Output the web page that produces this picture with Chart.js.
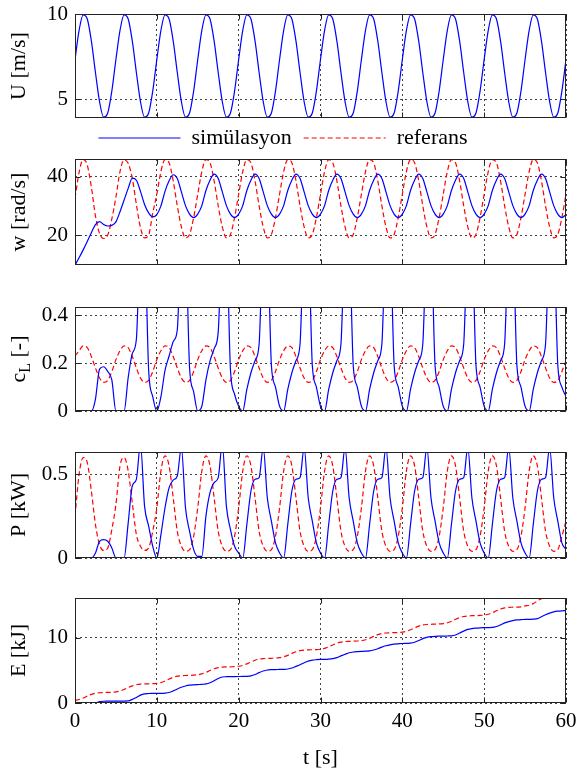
<!DOCTYPE html>
<html>
<head>
<meta charset="utf-8">
<script src="https://cdn.jsdelivr.net/npm/chart.js@4.4.1/dist/chart.umd.min.js"></script>
<style>
  html, body { margin: 0; padding: 0; background: #fff; }
  #wrap { position: relative; width: 581px; height: 771px; }
  #wrap canvas { position: absolute; left: 0; top: 0; }
</style>
</head>
<body>
<div id="wrap">
  <canvas id="cU" width="581" height="771"></canvas>
  <canvas id="cW" width="581" height="771"></canvas>
  <canvas id="cCL" width="581" height="771"></canvas>
  <canvas id="cP" width="581" height="771"></canvas>
  <canvas id="cE" width="581" height="771"></canvas>
</div>
<script>
// time samples [s]
const t = [
  0, 0.5, 1, 1.5, 2, 2.5, 3, 3.5, 4, 4.5,
  5, 5.5, 6, 6.5, 7, 7.5, 8, 8.5, 9, 9.5,
  10, 10.5, 11, 11.5, 12, 12.5, 13, 13.5, 14, 14.5,
  15, 15.5, 16, 16.5, 17, 17.5, 18, 18.5, 19, 19.5,
  20, 20.5, 21, 21.5, 22, 22.5, 23, 23.5, 24, 24.5,
  25, 25.5, 26, 26.5, 27, 27.5, 28, 28.5, 29, 29.5,
  30, 30.5, 31, 31.5, 32, 32.5, 33, 33.5, 34, 34.5,
  35, 35.5, 36, 36.5, 37, 37.5, 38, 38.5, 39, 39.5,
  40, 40.5, 41, 41.5, 42, 42.5, 43, 43.5, 44, 44.5,
  45, 45.5, 46, 46.5, 47, 47.5, 48, 48.5, 49, 49.5,
  50, 50.5, 51, 51.5, 52, 52.5, 53, 53.5, 54, 54.5,
  55, 55.5, 56, 56.5, 57, 57.5, 58, 58.5, 59, 59.5,
  60
];
const tTicks = [0, 10, 20, 30, 40, 50, 60];

// wind speed U [m/s]
const uSim = [
  7.33, 9.04, 9.95, 9.71, 8.42, 6.57, 4.86, 3.95, 4.19, 5.48,
  7.33, 9.04, 9.95, 9.71, 8.42, 6.57, 4.86, 3.95, 4.19, 5.48,
  7.33, 9.04, 9.95, 9.71, 8.42, 6.57, 4.86, 3.95, 4.19, 5.48,
  7.33, 9.04, 9.95, 9.71, 8.42, 6.57, 4.86, 3.95, 4.19, 5.48,
  7.33, 9.04, 9.95, 9.71, 8.42, 6.57, 4.86, 3.95, 4.19, 5.48,
  7.33, 9.04, 9.95, 9.71, 8.42, 6.57, 4.86, 3.95, 4.19, 5.48,
  7.33, 9.04, 9.95, 9.71, 8.42, 6.57, 4.86, 3.95, 4.19, 5.48,
  7.33, 9.04, 9.95, 9.71, 8.42, 6.57, 4.86, 3.95, 4.19, 5.48,
  7.33, 9.04, 9.95, 9.71, 8.42, 6.57, 4.86, 3.95, 4.19, 5.48,
  7.33, 9.04, 9.95, 9.71, 8.42, 6.57, 4.86, 3.95, 4.19, 5.48,
  7.33, 9.04, 9.95, 9.71, 8.42, 6.57, 4.86, 3.95, 4.19, 5.48,
  7.33, 9.04, 9.95, 9.71, 8.42, 6.57, 4.86, 3.95, 4.19, 5.48,
  7.33
];

// rotor speed w [rad/s]
const wSim = [
  9.7, 12.2, 14.9, 17.8, 20.8, 23.6, 24.6, 23.6, 23.1, 23.3,
  24.5, 28.0, 32.0, 36.0, 39.5, 38.8, 35.0, 30.5, 27.6, 26.2,
  27.0, 30.0, 35.0, 38.6, 40.7, 39.4, 34.8, 30.1, 27.2, 26.0,
  27.2, 30.1, 35.3, 38.8, 40.9, 39.4, 34.8, 30.1, 27.2, 26.0,
  27.2, 30.1, 35.3, 38.8, 40.9, 39.4, 34.8, 30.1, 27.2, 26.0,
  27.2, 30.1, 35.3, 38.8, 40.9, 39.4, 34.8, 30.1, 27.2, 26.0,
  27.2, 30.1, 35.3, 38.8, 40.9, 39.4, 34.8, 30.1, 27.2, 26.0,
  27.2, 30.1, 35.3, 38.8, 40.9, 39.4, 34.8, 30.1, 27.2, 26.0,
  27.2, 30.1, 35.3, 38.8, 40.9, 39.4, 34.8, 30.1, 27.2, 26.0,
  27.2, 30.1, 35.3, 38.8, 40.9, 39.4, 34.8, 30.1, 27.2, 26.0,
  27.2, 30.1, 35.3, 38.8, 40.9, 39.4, 34.8, 30.1, 27.2, 26.0,
  27.2, 30.1, 35.3, 38.8, 40.9, 39.4, 34.8, 30.1, 27.2, 26.0,
  27.0
];
const wRef = [
  32.6, 41.5, 46.0, 44.0, 36.5, 26.5, 20.5, 18.8, 20.0, 25.5,
  33.0, 41.8, 45.8, 44.6, 39.5, 30.5, 22.5, 19.0, 20.0, 27.5,
  34.0, 41.8, 45.9, 44.8, 38.6, 30.0, 22.8, 19.0, 20.2, 26.0,
  34.0, 41.8, 45.9, 44.8, 38.6, 30.0, 22.8, 19.0, 20.2, 26.0,
  34.0, 41.8, 45.9, 44.8, 38.6, 30.0, 22.8, 19.0, 20.2, 26.0,
  34.0, 41.8, 45.9, 44.8, 38.6, 30.0, 22.8, 19.0, 20.2, 26.0,
  34.0, 41.8, 45.9, 44.8, 38.6, 30.0, 22.8, 19.0, 20.2, 26.0,
  34.0, 41.8, 45.9, 44.8, 38.6, 30.0, 22.8, 19.0, 20.2, 26.0,
  34.0, 41.8, 45.9, 44.8, 38.6, 30.0, 22.8, 19.0, 20.2, 26.0,
  34.0, 41.8, 45.9, 44.8, 38.6, 30.0, 22.8, 19.0, 20.2, 26.0,
  34.0, 41.8, 45.9, 44.8, 38.6, 30.0, 22.8, 19.0, 20.2, 26.0,
  34.0, 41.8, 45.9, 44.8, 38.6, 30.0, 22.8, 19.0, 20.2, 26.0,
  34.0
];

// lift coefficient cL [-]
const cLSim = [
  0, 0, 0, 0, 0, 0.05, 0.175, 0.185, 0.165, 0.13,
  0, 0, 0, 0.14, 0.24, 0.30, 0.70, 0.70, 0.17, 0.06,
  0, 0.06, 0.17, 0.23, 0.29, 0.34, 0.70, 0.70, 0.18, 0.08,
  0, 0.02, 0.13, 0.21, 0.26, 0.33, 0.70, 0.70, 0.17, 0.07,
  0.02, 0, 0.09, 0.16, 0.21, 0.28, 0.70, 0.70, 0.19, 0.10,
  0.02, 0, 0.09, 0.16, 0.21, 0.28, 0.70, 0.70, 0.19, 0.10,
  0.02, 0, 0.09, 0.16, 0.21, 0.28, 0.70, 0.70, 0.19, 0.10,
  0.02, 0, 0.09, 0.16, 0.21, 0.28, 0.70, 0.70, 0.19, 0.10,
  0.02, 0, 0.09, 0.16, 0.21, 0.28, 0.70, 0.70, 0.19, 0.10,
  0.02, 0, 0.09, 0.16, 0.21, 0.28, 0.70, 0.70, 0.19, 0.10,
  0.02, 0, 0.09, 0.16, 0.21, 0.28, 0.70, 0.70, 0.19, 0.10,
  0.02, 0, 0.09, 0.16, 0.21, 0.28, 0.70, 0.70, 0.19, 0.10,
  0.06
];
const cLRef = [
  0.230, 0.252, 0.272, 0.265, 0.228, 0.180, 0.138, 0.120, 0.128, 0.165,
  0.215, 0.252, 0.272, 0.265, 0.228, 0.180, 0.138, 0.120, 0.128, 0.165,
  0.215, 0.252, 0.272, 0.265, 0.228, 0.180, 0.138, 0.120, 0.128, 0.165,
  0.215, 0.252, 0.272, 0.265, 0.228, 0.180, 0.138, 0.120, 0.128, 0.165,
  0.215, 0.252, 0.272, 0.265, 0.228, 0.180, 0.138, 0.120, 0.128, 0.165,
  0.215, 0.252, 0.272, 0.265, 0.228, 0.180, 0.138, 0.120, 0.128, 0.165,
  0.215, 0.252, 0.272, 0.265, 0.228, 0.180, 0.138, 0.120, 0.128, 0.165,
  0.215, 0.252, 0.272, 0.265, 0.228, 0.180, 0.138, 0.120, 0.128, 0.165,
  0.215, 0.252, 0.272, 0.265, 0.228, 0.180, 0.138, 0.120, 0.128, 0.165,
  0.215, 0.252, 0.272, 0.265, 0.228, 0.180, 0.138, 0.120, 0.128, 0.165,
  0.215, 0.252, 0.272, 0.265, 0.228, 0.180, 0.138, 0.120, 0.128, 0.165,
  0.215, 0.252, 0.272, 0.265, 0.228, 0.180, 0.138, 0.120, 0.128, 0.165,
  0.21
];

// power P [kW]
const pSim = [
  0, 0, 0, 0, 0, 0.03, 0.10, 0.11, 0.10, 0.06,
  0, 0, 0, 0.21, 0.43, 0.47, 0.68, 0.31, 0.19, 0.07,
  0, 0.14, 0.30, 0.42, 0.465, 0.49, 0.66, 0.30, 0.16, 0.05,
  0.01, 0.01, 0.25, 0.39, 0.45, 0.48, 0.68, 0.31, 0.17, 0.07,
  0.03, 0, 0.20, 0.40, 0.47, 0.48, 0.66, 0.36, 0.22, 0.09,
  0.03, 0, 0.20, 0.40, 0.47, 0.48, 0.66, 0.36, 0.22, 0.09,
  0.03, 0, 0.20, 0.40, 0.47, 0.48, 0.66, 0.36, 0.22, 0.09,
  0.03, 0, 0.20, 0.40, 0.47, 0.48, 0.66, 0.36, 0.22, 0.09,
  0.03, 0, 0.20, 0.40, 0.47, 0.48, 0.66, 0.36, 0.22, 0.09,
  0.03, 0, 0.20, 0.40, 0.47, 0.48, 0.66, 0.36, 0.22, 0.09,
  0.03, 0, 0.20, 0.40, 0.47, 0.48, 0.66, 0.36, 0.22, 0.09,
  0.03, 0, 0.20, 0.40, 0.47, 0.48, 0.66, 0.36, 0.22, 0.09,
  0.05
];
const pRef = [
  0.25, 0.50, 0.60, 0.57, 0.40, 0.20, 0.08, 0.045, 0.06, 0.17,
  0.32, 0.55, 0.60, 0.52, 0.33, 0.14, 0.07, 0.045, 0.06, 0.16,
  0.30, 0.52, 0.61, 0.55, 0.36, 0.16, 0.07, 0.04, 0.05, 0.13,
  0.30, 0.52, 0.61, 0.55, 0.36, 0.16, 0.07, 0.04, 0.05, 0.13,
  0.30, 0.52, 0.61, 0.55, 0.36, 0.16, 0.07, 0.04, 0.05, 0.13,
  0.30, 0.52, 0.61, 0.55, 0.36, 0.16, 0.07, 0.04, 0.05, 0.13,
  0.30, 0.52, 0.61, 0.55, 0.36, 0.16, 0.07, 0.04, 0.05, 0.13,
  0.30, 0.52, 0.61, 0.55, 0.36, 0.16, 0.07, 0.04, 0.05, 0.13,
  0.30, 0.52, 0.61, 0.55, 0.36, 0.16, 0.07, 0.04, 0.05, 0.13,
  0.30, 0.52, 0.61, 0.55, 0.36, 0.16, 0.07, 0.04, 0.05, 0.13,
  0.30, 0.52, 0.61, 0.55, 0.36, 0.16, 0.07, 0.04, 0.05, 0.13,
  0.30, 0.52, 0.61, 0.55, 0.36, 0.16, 0.07, 0.04, 0.05, 0.13,
  0.22
];

// energy E [kJ]
const eSim = [
  0, 0, 0, 0, 0, 0.02, 0.20, 0.27, 0.29, 0.30,
  0.30, 0.30, 0.30, 0.32, 0.55, 0.85, 1.20, 1.40, 1.45, 1.46,
  1.47, 1.47, 1.50, 1.60, 1.85, 2.15, 2.40, 2.60, 2.72, 2.78,
  2.82, 2.86, 2.92, 3.10, 3.40, 3.75, 3.98, 4.02, 4.03, 4.04,
  4.05, 4.06, 4.08, 4.15, 4.35, 4.65, 4.90, 5.05, 5.10, 5.12,
  5.13, 5.15, 5.20, 5.35, 5.60, 5.85, 6.15, 6.40, 6.55, 6.62,
  6.66, 6.68, 6.72, 6.80, 6.95, 7.20, 7.45, 7.68, 7.80, 7.86,
  7.90, 7.92, 7.96, 8.10, 8.30, 8.55, 8.75, 8.90, 9.00, 9.05,
  9.10, 9.12, 9.15, 9.30, 9.55, 9.85, 10.05, 10.15, 10.20, 10.22,
  10.23, 10.25, 10.27, 10.40, 10.70, 11.00, 11.25, 11.38, 11.45, 11.50,
  11.52, 11.54, 11.56, 11.70, 11.95, 12.25, 12.45, 12.60, 12.70, 12.76,
  12.78, 12.80, 12.82, 12.90, 13.20, 13.50, 13.75, 13.95, 14.05, 14.10,
  14.12
];
const eRef = [
  0.40, 0.53, 0.76, 1.05, 1.32, 1.49, 1.57, 1.60, 1.62, 1.65,
  1.71, 1.84, 2.07, 2.36, 2.62, 2.79, 2.88, 2.91, 2.93, 2.95,
  3.01, 3.14, 3.37, 3.66, 3.93, 4.10, 4.18, 4.21, 4.23, 4.26,
  4.32, 4.45, 4.68, 4.97, 5.23, 5.40, 5.49, 5.52, 5.54, 5.56,
  5.62, 5.75, 5.98, 6.27, 6.54, 6.71, 6.79, 6.82, 6.84, 6.87,
  6.93, 7.06, 7.29, 7.58, 7.84, 8.01, 8.10, 8.13, 8.15, 8.17,
  8.23, 8.36, 8.59, 8.88, 9.15, 9.32, 9.40, 9.43, 9.45, 9.48,
  9.54, 9.67, 9.90, 10.19, 10.45, 10.62, 10.71, 10.74, 10.76, 10.78,
  10.84, 10.97, 11.20, 11.49, 11.76, 11.93, 12.01, 12.04, 12.06, 12.09,
  12.15, 12.28, 12.51, 12.80, 13.06, 13.23, 13.32, 13.35, 13.37, 13.39,
  13.45, 13.58, 13.81, 14.10, 14.37, 14.54, 14.62, 14.65, 14.67, 14.70,
  14.85, 14.95, 15.20, 15.60, 15.95, 16.02, 16.04, 16.05, 16.05, 16.06,
  16.06
];

const FONT = "'Liberation Serif', 'Times New Roman', serif";
const BLUE = "#0000ff";
const RED = "#ff0000";
const GRID = "#444";

function series(label, ys, color, dashed) {
  return {
    label: label,
    data: t.map((x, i) => ({ x: x, y: ys[i] })),
    borderColor: color,
    backgroundColor: color,
    borderWidth: 1.2,
    borderDash: dashed ? [5, 3] : [],
    pointRadius: 0,
    cubicInterpolationMode: "monotone",
    fill: false
  };
}

function xScale(show) {
  return {
    type: "linear", min: 0, max: 60,
    afterBuildTicks: s => { s.ticks = tTicks.map(v => ({ value: v })); },
    afterFit: s => { s.height = show ? 68 : 0; s.paddingLeft = 0; s.paddingRight = 0; },
    ticks: { display: show, color: "#000", padding: 6, font: { family: FONT, size: 21 } },
    grid: { color: GRID, lineWidth: 1, drawTicks: false },
    border: { display: false, dash: [2, 3] },
    title: { display: show, text: "t [s]", color: "#000", padding: 0, font: { family: FONT, size: 22 } }
  };
}

function yScale(min, max, ticks, title) {
  return {
    type: "linear", min: min, max: max,
    afterBuildTicks: s => { s.ticks = ticks.map(v => ({ value: v })); },
    afterFit: s => { s.width = 75; s.paddingTop = 0; s.paddingBottom = 0; },
    ticks: { color: "#000", padding: 7, font: { family: FONT, size: 21 }, callback: v => String(v) },
    grid: { color: GRID, lineWidth: 1, drawTicks: false },
    border: { display: false, dash: [2, 3] },
    title: {
      display: !!title, text: title || "", color: "#000",
      padding: { top: 6, bottom: 0 }, font: { family: FONT, size: 22 }
    }
  };
}

// box around the plot area with small inward ticks
const framePlugin = {
  id: "frame",
  afterDraw(chart) {
    const { ctx, chartArea: a, scales } = chart;
    const l = Math.round(a.left) + 0.5, r = Math.round(a.right) - 0.5;
    const tp = Math.round(a.top) + 0.5, b = Math.round(a.bottom) - 0.5;
    ctx.save();
    ctx.setLineDash([]);
    ctx.strokeStyle = "#222";
    ctx.lineWidth = 1;
    ctx.strokeRect(l, tp, r - l, b - tp);
    ctx.beginPath();
    scales.x.ticks.forEach(tk => {
      const px = Math.round(scales.x.getPixelForValue(tk.value)) + 0.5;
      ctx.moveTo(px, b); ctx.lineTo(px, b - 5);
      ctx.moveTo(px, tp); ctx.lineTo(px, tp + 5);
    });
    scales.y.ticks.forEach(tk => {
      const py = Math.round(scales.y.getPixelForValue(tk.value)) + 0.5;
      ctx.moveTo(l, py); ctx.lineTo(l + 5, py);
      ctx.moveTo(r, py); ctx.lineTo(r - 5, py);
    });
    ctx.stroke();
    ctx.restore();
  }
};

// y title with subscript for the lift coefficient
const cLTitle = {
  id: "cLTitle",
  afterDraw(chart) {
    const { ctx, chartArea: a } = chart;
    const big = "22px " + FONT, small = "16px " + FONT;
    ctx.save();
    ctx.translate(19, (a.top + a.bottom) / 2);
    ctx.rotate(-Math.PI / 2);
    ctx.fillStyle = "#000";
    ctx.textBaseline = "middle";
    ctx.font = big;
    const wc = ctx.measureText("c").width, wr = ctx.measureText(" [-]").width;
    ctx.font = small;
    const wl = ctx.measureText("L").width;
    let x = -(wc + wl + wr) / 2;
    ctx.font = big; ctx.fillText("c", x, 0); x += wc;
    ctx.font = small; ctx.fillText("L", x, 7); x += wl;
    ctx.font = big; ctx.fillText(" [-]", x, 0);
    ctx.restore();
  }
};

function makeChart(id, datasets, y, pad, opts) {
  opts = opts || {};
  return new Chart(document.getElementById(id), {
    type: "line",
    data: { datasets: datasets },
    options: {
      responsive: false,
      animation: false,
      devicePixelRatio: 1,
      layout: { padding: { left: 0, right: 15, top: pad[0], bottom: pad[1] } },
      scales: { x: xScale(!!opts.showX), y: y },
      plugins: {
        tooltip: { enabled: false },
        legend: opts.legend ? {
          display: true,
          position: "top",
          labels: {
            usePointStyle: true,
            pointStyleWidth: 82,
            padding: 12,
            color: "#000",
            font: { family: FONT, size: 22 },
            generateLabels: ch => ch.data.datasets.map((d, i) => ({
              text: d.label,
              datasetIndex: i,
              strokeStyle: d.borderColor,
              fillStyle: d.borderColor,
              lineWidth: d.borderWidth,
              lineDash: d.borderDash,
              pointStyle: "line",
              hidden: false
            }))
          }
        } : { display: false }
      }
    },
    plugins: [framePlugin].concat(opts.plugins || [])
  });
}

makeChart("cU",
  [series("simülasyon", uSim, BLUE, false)],
  yScale(3.9, 10, [5, 10], "U [m/s]"), [14, 653]);

makeChart("cW",
  [series("simülasyon", wSim, BLUE, false), series("referans", wRef, RED, true)],
  yScale(9.7, 46.1, [20, 40], "w [rad/s]"), [115, 506], { legend: true });

makeChart("cCL",
  [series("simülasyon", cLSim, BLUE, false), series("referans", cLRef, RED, true)],
  yScale(0, 0.435, [0, 0.2, 0.4], null), [307, 360], { plugins: [cLTitle] });

makeChart("cP",
  [series("simülasyon", pSim, BLUE, false), series("referans", pRef, RED, true)],
  yScale(0, 0.633, [0, 0.5], "P [kW]"), [452, 213]);

makeChart("cE",
  [series("simülasyon", eSim, BLUE, false), series("referans", eRef, RED, true)],
  yScale(0, 16.06, [0, 10], "E [kJ]"), [598, 0], { showX: true });
</script>
</body>
</html>
